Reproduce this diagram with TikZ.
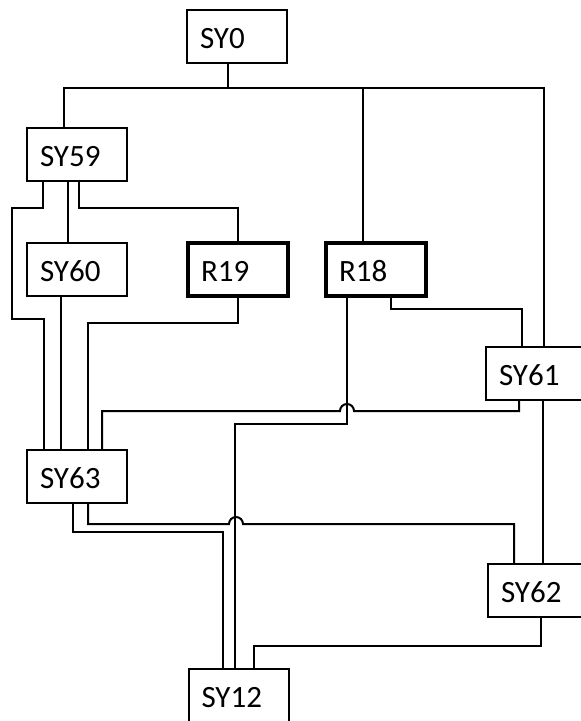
\documentclass[tikz,border=0pt]{standalone}
\usepackage{fontspec}
\setmainfont{Carlito}
\usetikzlibrary{positioning}

\begin{document}
\begin{tikzpicture}[
  x=1pt, y=-1pt,
  font=\fontsize{31}{37}\selectfont,
  sybox/.style={draw, line width=2pt, outer sep=0pt, minimum height=53pt, text width=74pt,
    inner xsep=13pt, inner ysep=0pt, align=left, text height=24pt, text depth=0pt},
  rbox/.style={sybox, line width=4.5pt},
  wire/.style={line width=2pt, line join=miter},
]
\useasboundingbox (0,0) rectangle (581,721);
% nodos
\node[sybox] (sy0) at (237,36.5) {SY0};
\node[sybox] (sy59) at (77,154.5) {SY59};
\node[sybox, below=62pt of sy59] (sy60) {SY60};
\node[rbox, right=61pt of sy60] (r19) {R19};
\node[rbox, right=38pt of r19] (r18) {R18};
\node[sybox, below=154pt of sy60] (sy63) {SY63};
\node[sybox] (sy61) at (536,373.5) {SY61};
\node[sybox] (sy62) at (538,590.5) {SY62};
\node[sybox] (sy12) at (238.5,695.5) {SY12};
% desde SY0
\draw[wire] ([xshift=-9pt]sy0.south) -- ++(0,25) -| ([xshift=-13pt]sy59.north);
\draw[wire] ([xshift=-9pt]sy0.south) -- ++(0,25) -| ([xshift=-13pt]r18.north);
\draw[wire] ([xshift=-9pt]sy0.south) -- ++(0,25) -| ([xshift=8pt]sy61.north);
% desde SY59
\draw[wire] ([xshift=-9pt]sy59.south) -- ([xshift=-9pt]sy60.north);
\draw[wire] ([xshift=2pt]sy59.south) -- ++(0,27) -| (r19.north);
\draw[wire] ([xshift=-34pt]sy59.south) -- ++(0,27) -- ++(-31,0) -- ++(0,111) -| ([xshift=-33pt]sy63.north);
% hacia SY63
\draw[wire] ([xshift=-16pt]sy60.south) -- ([xshift=-16pt]sy60.south |- sy63.north);
\draw[wire] (r19.south) -- ++(0,27) -| ([xshift=11pt]sy63.north);
\draw[wire] ([xshift=-17pt]sy61.south) -- ++(0,11) -- ++(-165,0)
  arc[start angle=0, end angle=180, radius=7pt] -| ([xshift=25pt]sy63.north);
% desde R18
\draw[wire] ([xshift=-29pt]r18.south) -- ++(0,128) -| ([xshift=-3.5pt]sy12.north);
\draw[wire] ([xshift=15pt]r18.south) -- ++(0,13) -| ([xshift=-14pt]sy61.north);
% lado derecho
\draw[wire] ([xshift=7pt]sy61.south) -- ([xshift=7pt]sy61.south |- sy62.north);
\draw[wire] ([xshift=3pt]sy62.south) -- ++(0,29) -| ([xshift=15.5pt]sy12.north);
% desde SY63
\draw[wire] ([xshift=-4pt]sy63.south) -- ++(0,29) -| ([xshift=-15.5pt]sy12.north);
\draw[wire] ([xshift=11pt]sy63.south) -- ++(0,21) -- ++(141,0)
  arc[start angle=180, end angle=0, radius=7pt] -| ([xshift=-24pt]sy62.north);
\end{tikzpicture}
\end{document}
